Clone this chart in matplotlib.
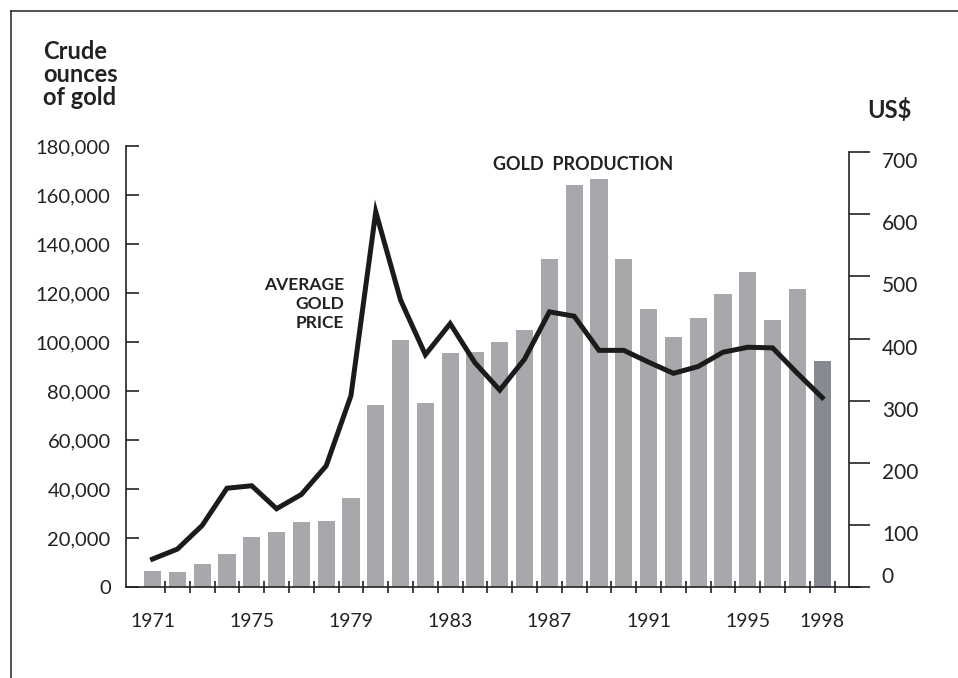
import matplotlib.pyplot as plt
from matplotlib.lines import Line2D

plt.rcParams['font.family'] = ['Lato', 'DejaVu Sans']

# data
years = list(range(1971, 1999))
production = [6600, 6100, 9400, 13500, 20400, 22400, 26500, 26800, 36200, 74300,
              100700, 75200, 95400, 95900, 100000, 104900, 133900, 164000, 166500, 134000,
              113500, 102000, 110000, 119600, 128600, 109000, 121600, 92400]
price = [45, 61, 99, 159, 163, 126, 149, 195, 308, 604,
         462, 374, 424, 361, 317, 367, 443, 436, 381, 381,
         362, 344, 355, 378, 386, 385, 344, 305]
year_labels = [1971, 1975, 1979, 1983, 1987, 1991, 1995, 1998]
left_ticks = list(range(0, 180001, 20000))
right_ticks = list(range(0, 701, 100))

W, H = 958, 678
ink = '#222222'
bar_colors = ['#a7a8ab'] * (len(years) - 1) + ['#868b92']

fig = plt.figure(figsize=(W / 100, H / 100), dpi=100)
ax = fig.add_axes([126 / W, 1 - 587 / H, (849 - 126) / W, (587 - 146) / H])
ax.set_xlim(1969.93, 1999.08)
ax.set_ylim(0, 180000)

ax.bar(years, production, width=0.69, color=bar_colors)

for side in ['top', 'right']:
    ax.spines[side].set_visible(False)
ax.spines['left'].set_bounds(0, 180000)
ax.spines['bottom'].set_bounds(1969.93, 1999.53)
for side in ['left', 'bottom']:
    ax.spines[side].set_color(ink)
    ax.spines[side].set_linewidth(1.2)

ax.set_yticks(left_ticks)
ax.set_yticklabels([f"{v:,}" for v in left_ticks])
ax.tick_params(axis='y', direction='in', length=9.5, width=1.2, pad=11,
               labelsize=14.5, colors=ink)

ax.set_xticks(year_labels)
ax.set_xticklabels([str(y) for y in year_labels])
ax.set_xticks([y + 0.5 for y in years], minor=True)
ax.tick_params(axis='x', which='major', length=0, pad=19, labelsize=14, colors=ink)
ax.tick_params(axis='x', which='minor', direction='inout', length=8.5, width=1.2, color=ink)

ax2 = ax.twinx()
ax2.set_ylim(0, 710)
ax2.plot(years, price, color='#1b1b1b', lw=3.6, solid_joinstyle='miter')
for side in ['top', 'left', 'bottom']:
    ax2.spines[side].set_visible(False)
ax2.spines['right'].set_bounds(0, 700)
ax2.spines['right'].set_color(ink)
ax2.spines['right'].set_linewidth(1.2)
ax2.set_yticks(right_ticks)
ax2.set_yticklabels([str(v) for v in right_ticks])
ax2.tick_params(axis='y', direction='out', length=15, width=1.2, pad=8.6,
                labelsize=15, colors=ink)
for lab in ax2.get_yticklabels():
    lab.set_va('top')
ax2.get_yticklabels()[0].set_va('bottom')

# titles and annotations
fig.text(43 / W, 1 - 40 / H, "Crude\nounces\nof gold", fontsize=17, fontweight='bold',
         va='top', ha='left', linespacing=1.0, color=ink)
fig.text(867 / W, 1 - 118 / H, "US$", fontsize=17, fontweight='bold',
         va='baseline', ha='left', color=ink)
fig.text(493 / W, 1 - 170 / H, "GOLD  PRODUCTION", fontsize=13, fontweight='bold',
         va='baseline', ha='left', color=ink)
fig.text(344 / W, 1 - 277 / H, "AVERAGE\nGOLD\nPRICE", fontsize=12.5, fontweight='bold',
         va='top', ha='right', multialignment='right', linespacing=1.25, color=ink)

# page frame
fig.add_artist(Line2D([11 / W, 1], [1 - 11 / H, 1 - 11 / H], color='#333333', lw=1.2,
                      transform=fig.transFigure))
fig.add_artist(Line2D([11 / W, 11 / W], [0, 1 - 11 / H], color='#333333', lw=1.2,
                      transform=fig.transFigure))

fig.savefig('out.png', dpi=100)
